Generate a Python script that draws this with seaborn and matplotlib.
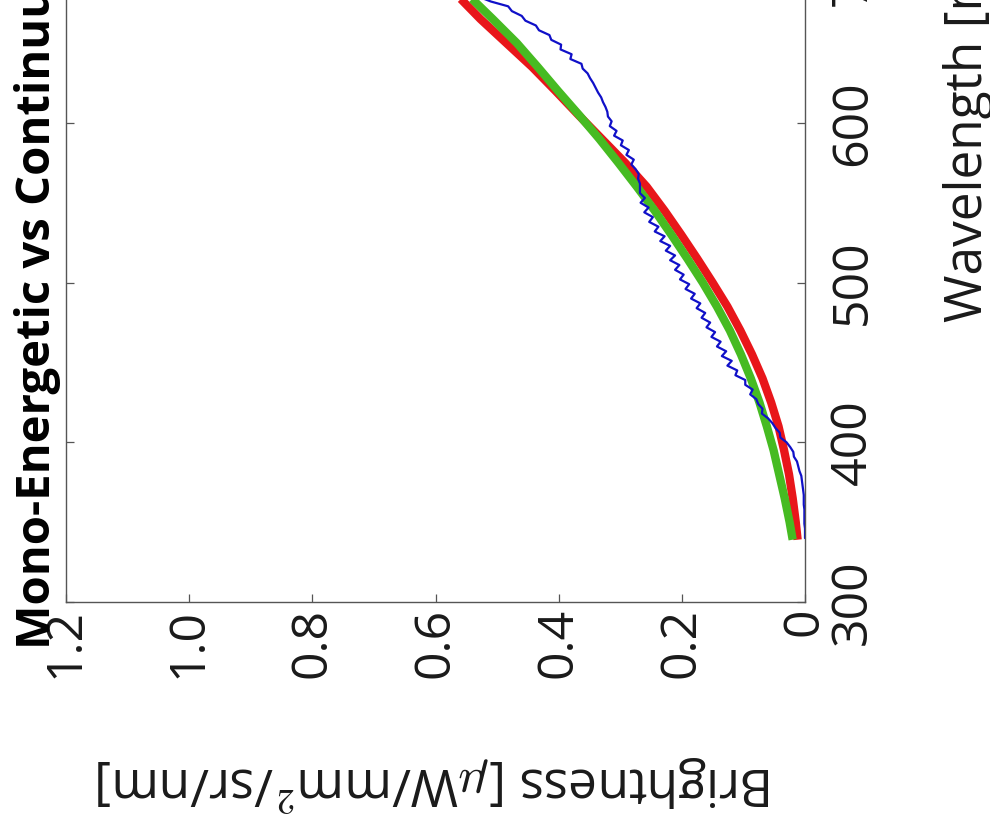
import matplotlib
matplotlib.use("Agg")
import matplotlib.pyplot as plt
import seaborn as sns
import pandas as pd
from matplotlib.ticker import FixedLocator, FixedFormatter

# ---------------- data ----------------
title_text = "Mono-Energetic vs Continuum"
xlabel_text = "Wavelength [nm]"
ylabel_text = r"Brightness [$\mu$W/mm$^{\mathsf{2}}$/sr/nm]"

brightness_ticks = [0, 0.2, 0.4, 0.6, 0.8, 1.0, 1.2]
brightness_ticklabels = ["0", "0.2", "0.4", "0.6", "0.8", "1.0", "1.2"]
wavelength_ticks = [300, 400, 500, 600, 700]
wavelength_ticklabels = ["300", "400", "500", "600", "700"]

# measured spectrum (noisy, blue)
meas_wl = [340, 343, 346, 349, 352, 355, 358, 361, 364, 367, 370, 373, 376, 379,
           382, 385, 388, 391, 394, 397, 400, 403, 406, 409, 412, 415, 418, 421,
           424, 427, 430, 433, 436, 439, 442, 445, 448, 451, 454, 457, 460, 463,
           466, 469, 472, 475, 478, 481, 484, 487, 490, 493, 496, 499, 502, 505,
           508, 511, 514, 517, 520, 523, 526, 529, 532, 535, 538, 541, 544, 547,
           550, 553, 556, 559, 562, 565, 568, 571, 574, 577, 580, 583, 586, 589,
           592, 595, 598, 601, 604, 607, 610, 613, 616, 619, 622, 625, 628, 631,
           634, 637, 640, 643, 646, 649, 652, 655, 658, 661, 664, 667, 670, 673,
           676, 679, 682]
meas_br = [0.000, 0.000, 0.000, 0.001, 0.001, 0.001, 0.001, 0.002, 0.002, 0.002,
           0.003, 0.004, 0.005, 0.006, 0.009, 0.011, 0.013, 0.018, 0.019, 0.024,
           0.030, 0.040, 0.041, 0.048, 0.053, 0.060, 0.070, 0.069, 0.076, 0.079,
           0.089, 0.085, 0.097, 0.097, 0.113, 0.110, 0.126, 0.119, 0.135, 0.128,
           0.143, 0.137, 0.152, 0.146, 0.160, 0.154, 0.168, 0.162, 0.176, 0.170,
           0.185, 0.179, 0.194, 0.188, 0.203, 0.197, 0.211, 0.204, 0.219, 0.211,
           0.226, 0.219, 0.235, 0.228, 0.244, 0.238, 0.253, 0.247, 0.261, 0.254,
           0.267, 0.260, 0.268, 0.268, 0.268, 0.271, 0.270, 0.275, 0.282, 0.278,
           0.290, 0.286, 0.299, 0.296, 0.310, 0.306, 0.317, 0.314, 0.320, 0.321,
           0.324, 0.328, 0.331, 0.336, 0.340, 0.344, 0.349, 0.353, 0.361, 0.363,
           0.381, 0.379, 0.397, 0.396, 0.412, 0.415, 0.432, 0.437, 0.454, 0.460,
           0.476, 0.482, 0.510, 0.530, 0.550]

# model curves
model_wl = [339, 350, 365, 380, 395, 410, 425, 440, 455, 470, 485, 500, 515, 530,
            545, 560, 575, 590, 605, 620, 635, 650, 665, 680, 695]
mono_br = [0.012, 0.015, 0.020, 0.026, 0.034, 0.043, 0.055, 0.069, 0.086, 0.105,
           0.126, 0.150, 0.175, 0.201, 0.228, 0.257, 0.292, 0.330, 0.368, 0.405,
           0.443, 0.485, 0.527, 0.565, 0.605]
cont_br = [0.020, 0.025, 0.033, 0.042, 0.051, 0.062, 0.074, 0.088, 0.104, 0.122,
           0.143, 0.166, 0.191, 0.217, 0.244, 0.273, 0.303, 0.334, 0.367, 0.401,
           0.434, 0.468, 0.507, 0.547, 0.587]

# ---------------- style ----------------
sns.set_theme(style="white")
plt.rcParams["font.family"] = ["Open Sans", "DejaVu Sans"]
plt.rcParams["mathtext.fontset"] = "cm"

W, H = 990, 838
fig = plt.figure(figsize=(W / 100, H / 100), dpi=100)

ax_left, ax_right, ax_bottom_px = 66, 805, 602
wl_min, wl_max = 300, 900
px_per_nm = 1.597
ax_h_px = (wl_max - wl_min) * px_per_nm
ax = fig.add_axes([ax_left / W, (H - ax_bottom_px) / H,
                   (ax_right - ax_left) / W, ax_h_px / H])

df_meas = pd.DataFrame({"wl": meas_wl, "br": meas_br})
df_mono = pd.DataFrame({"wl": model_wl, "br": mono_br})
df_cont = pd.DataFrame({"wl": model_wl, "br": cont_br})

sns.lineplot(data=df_mono, x="br", y="wl", sort=False, estimator=None,
             color="#e8161a", linewidth=6.0, ax=ax, solid_capstyle="butt")
sns.lineplot(data=df_cont, x="br", y="wl", sort=False, estimator=None,
             color="#46bb22", linewidth=6.0, ax=ax, solid_capstyle="butt")
sns.lineplot(data=df_meas, x="br", y="wl", sort=False, estimator=None,
             color="#1010c8", linewidth=1.6, ax=ax)

ax.set_xlim(1.2, 0)
ax.set_ylim(wl_min, wl_max)
ax.set_xlabel("")
ax.set_ylabel("")

ax.xaxis.set_major_locator(FixedLocator(brightness_ticks))
ax.xaxis.set_major_formatter(FixedFormatter(brightness_ticklabels))
ax.yaxis.set_major_locator(FixedLocator(wavelength_ticks))
ax.yaxis.set_major_formatter(FixedFormatter(wavelength_ticklabels))

spine_c = "#555555"
for s in ax.spines.values():
    s.set_color(spine_c)
    s.set_linewidth(1.0)

ax.tick_params(axis="both", direction="in", length=6, width=0.9, color=spine_c,
               labelsize=36, labelcolor="#1a1a1a")
ax.tick_params(axis="x", top=True, bottom=True, pad=4)
ax.tick_params(axis="y", left=True, right=True, labelleft=False,
               labelright=True, pad=17)
for lab in ax.get_xticklabels():
    lab.set_rotation(90)
    lab.set_ha("center")
    lab.set_va("top")
for lab in ax.get_yticklabels():
    lab.set_rotation(90)
    lab.set_ha("left")
    lab.set_va("center")

# title (rotated, reading bottom to top)
fig.text(50 / W, (H - 649) / H, title_text, rotation=90, rotation_mode="anchor",
         ha="left", va="baseline", fontsize=34, fontweight="bold", color="black")
# wavelength label
fig.text(982 / W, (H - 322) / H, xlabel_text, rotation=90, rotation_mode="anchor",
         ha="left", va="baseline", fontsize=37, color="#1a1a1a")
# brightness label (upside down)
fig.text(435 / W, (H - 767) / H, ylabel_text, rotation=180, rotation_mode="anchor",
         ha="center", va="baseline", fontsize=37, color="#1a1a1a")

fig.savefig("out.png", dpi=100, facecolor="white")
